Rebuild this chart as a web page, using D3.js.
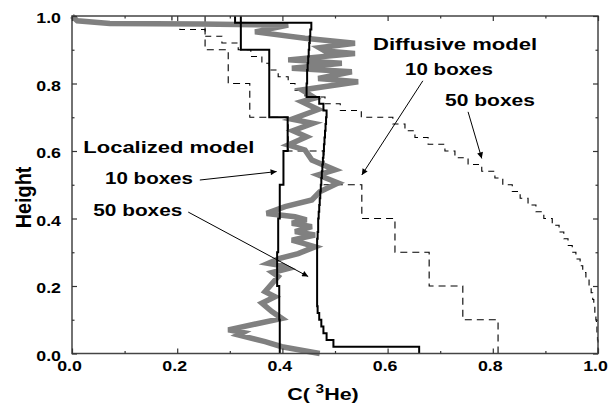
<!DOCTYPE html>
<html><head><meta charset="utf-8">
<script src="https://cdn.jsdelivr.net/npm/d3@7/dist/d3.min.js"></script>
<style>
body{margin:0;background:#fff}
text{font-family:"Liberation Sans",Arial,Helvetica,sans-serif;font-weight:bold;fill:#000}
</style>
</head><body>
<svg id="chart" width="609" height="408"></svg>
<script>
// ---------- data ----------
const xMajorTicks = [0, 0.2, 0.4, 0.6, 0.8, 1.0];
const xTickLabels = ["0.0", "0.2", "0.4", "0.6", "0.8", "1.0"];
const yMajorTicks = [0, 0.2, 0.4, 0.6, 0.8, 1.0];
const yTickLabels = ["0.0", "0.2", "0.4", "0.6", "0.8", "1.0"];
const minorTicks = [0.1, 0.3, 0.5, 0.7, 0.9];

// Localized model, 10 boxes (black step, left) : box edges (top->bottom) and values
const locTenEdges  = [1.0, 0.98, 0.9, 0.8, 0.7, 0.6, 0.5, 0.4, 0.3, 0.2, 0.1, 0.0];
const locTenValues = [0.310, 0.321, 0.375, 0.375, 0.410, 0.402, 0.395, 0.392, 0.390, 0.394, 0.395];

// 50-box black step (right), values bottom->top, each box 0.02 high
const locFiftyValues = [
  0.660, 0.497, 0.484, 0.478, 0.474, 0.470, 0.467, 0.466, 0.466, 0.466,
  0.466, 0.466, 0.466, 0.466, 0.466, 0.466, 0.466, 0.467, 0.468, 0.468,
  0.469, 0.470, 0.471, 0.472, 0.473, 0.474, 0.475, 0.476, 0.477, 0.478,
  0.479, 0.480, 0.481, 0.482, 0.483, 0.484, 0.478, 0.470, 0.446, 0.446,
  0.447, 0.447, 0.448, 0.449, 0.450, 0.451, 0.452, 0.453, 0.455, 0.321];

// Gray wiggly profile (Localized model, 50 boxes)
const grayX = [0.000,0.010,0.072,0.243,0.411,0.348,0.443,0.538,0.470,0.481,0.538,0.411,0.513,0.418,0.532,0.468,0.544,0.437,0.462,0.437,0.468,
  0.418,0.458,0.420,0.446,0.411,0.443,0.456,0.500,0.468,0.506,0.471,0.456,0.405,0.370,0.424,0.446,0.418,0.456,0.424,0.462,
  0.418,0.440,0.462,0.430,0.395,0.373,0.400,0.411,0.381,0.392,0.367,0.386,0.361,0.380,0.399,0.297,0.325,0.316,0.367,0.399,0.471];
const grayH = [1.000,0.986,0.978,0.976,0.973,0.953,0.934,0.919,0.906,0.896,0.889,0.870,0.860,0.845,0.835,0.815,0.805,0.781,0.757,0.746,0.723,
  0.694,0.682,0.660,0.642,0.618,0.603,0.573,0.544,0.529,0.505,0.479,0.455,0.435,0.415,0.405,0.396,0.386,0.376,0.361,0.351,
  0.336,0.326,0.316,0.296,0.282,0.267,0.260,0.252,0.240,0.228,0.183,0.168,0.149,0.124,0.104,0.070,0.062,0.055,0.035,0.020,0.000];

// Diffusive model, 10 boxes (coarse dashed), values bottom->top, each box 0.1 high
const difTenValues = [0.810, 0.743, 0.679, 0.614, 0.551, 0.479, 0.411, 0.338, 0.297, 0.253];

// Diffusive model, 50 boxes (fine dashed), values bottom->top, each box 0.02 high
const difFiftyValues = [
  1.000, 1.000, 0.999, 0.998, 0.997, 0.996, 0.994, 0.992, 0.990, 0.987,
  0.983, 0.977, 0.971, 0.966, 0.958, 0.951, 0.943, 0.935, 0.926, 0.913,
  0.897, 0.882, 0.867, 0.852, 0.837, 0.819, 0.804, 0.779, 0.753, 0.728,
  0.709, 0.677, 0.652, 0.633, 0.610, 0.550, 0.510, 0.481, 0.443, 0.424,
  0.411, 0.392, 0.375, 0.361, 0.340, 0.316, 0.285, 0.253, 0.205, 0.190];

// Annotations: text, arrow start and arrow tip (data units)
const labelTexts = ["Diffusive model", "10 boxes", "50 boxes", "Localized model", "10 boxes", "50 boxes"];
const arrowStarts = [[0.667, 0.808], [0.753, 0.716], [0.243, 0.514], [0.221, 0.419]];
const arrowEnds   = [[0.551, 0.529], [0.779, 0.578], [0.389, 0.539], [0.449, 0.228]];

// ---------- layout ----------
const svg = d3.select("#chart");
const x = d3.scaleLinear().domain([0, 1]).range([72, 598]);
const y = d3.scaleLinear().domain([0, 1]).range([353.5, 16]);

function boxesFromEdges(edges, values) {
  const pts = [];
  values.forEach((v, i) => { pts.push([v, edges[i]]); pts.push([v, edges[i + 1]]); });
  return pts;
}
function boxesUniform(values, n) {
  const pts = [];
  const hgt = 1 / n;
  values.forEach((v, i) => { pts.push([v, i * hgt]); pts.push([v, (i + 1) * hgt]); });
  return pts;
}
const line = d3.line().x(d => x(d[0])).y(d => y(d[1]));

// dashed lines
svg.append("path").attr("d", line(boxesUniform(difTenValues, 10)))
  .attr("fill", "none").attr("stroke", "#000").attr("stroke-width", 1.1).attr("stroke-dasharray", "7,5");
svg.append("path").attr("d", line(boxesUniform(difFiftyValues, 50)))
  .attr("fill", "none").attr("stroke", "#000").attr("stroke-width", 1.1).attr("stroke-dasharray", "6,5");

// gray profile
svg.append("path").attr("d", line(grayX.map((v, i) => [v, grayH[i]])))
  .attr("fill", "none").attr("stroke", "#808080").attr("stroke-width", 5.5).attr("stroke-linejoin", "miter");

// black steps
svg.append("path").attr("d", line(boxesFromEdges(locTenEdges, locTenValues)))
  .attr("fill", "none").attr("stroke", "#000").attr("stroke-width", 2);
svg.append("path").attr("d", line(boxesUniform(locFiftyValues, 50)))
  .attr("fill", "none").attr("stroke", "#000").attr("stroke-width", 2);

// frame
svg.append("rect").attr("x", x(0)).attr("y", y(1)).attr("width", x(1) - x(0)).attr("height", y(0) - y(1))
  .attr("fill", "none").attr("stroke", "#444").attr("stroke-width", 1.5);

// axes
function styleAxis(g) { g.select(".domain").remove(); g.selectAll(".tick line").attr("stroke", "#333").attr("stroke-width", 1.2); }

const bottom = svg.append("g").attr("transform", `translate(0,${y(0)})`)
  .call(d3.axisBottom(x).tickValues(xMajorTicks).tickSize(-5).tickFormat((d, i) => xTickLabels[i]));
styleAxis(bottom);
bottom.selectAll("text").attr("y", 17.4).attr("dy", 0).attr("x", -3)
  .attr("font-size", 14.5).attr("textLength", 24.7).attr("lengthAdjust", "spacingAndGlyphs")
  .style("font-family", "'Liberation Sans',Arial,sans-serif").style("font-weight", "bold").attr("fill", "#000");
svg.append("g").attr("transform", `translate(0,${y(0)})`)
  .call(d3.axisBottom(x).tickValues(minorTicks).tickSize(-2.5).tickFormat("")).call(styleAxis);

const left = svg.append("g").attr("transform", `translate(${x(0)},0)`)
  .call(d3.axisLeft(y).tickValues(yMajorTicks).tickSize(-5).tickPadding(11).tickFormat((d, i) => yTickLabels[i]));
styleAxis(left);
left.selectAll("text").attr("dy", "0.46em")
  .attr("font-size", 14.5).attr("textLength", 24.7).attr("lengthAdjust", "spacingAndGlyphs")
  .style("font-family", "'Liberation Sans',Arial,sans-serif").style("font-weight", "bold").attr("fill", "#000");
svg.append("g").attr("transform", `translate(${x(0)},0)`)
  .call(d3.axisLeft(y).tickValues(minorTicks).tickSize(-2.5).tickFormat("")).call(styleAxis);

svg.append("g").attr("transform", `translate(0,${y(1)})`)
  .call(d3.axisTop(x).tickValues(xMajorTicks).tickSize(-5).tickFormat("")).call(styleAxis);
svg.append("g").attr("transform", `translate(0,${y(1)})`)
  .call(d3.axisTop(x).tickValues(minorTicks).tickSize(-2.5).tickFormat("")).call(styleAxis);
svg.append("g").attr("transform", `translate(${x(1)},0)`)
  .call(d3.axisRight(y).tickValues(yMajorTicks).tickSize(-5).tickFormat("")).call(styleAxis);
svg.append("g").attr("transform", `translate(${x(1)},0)`)
  .call(d3.axisRight(y).tickValues(minorTicks).tickSize(-2.5).tickFormat("")).call(styleAxis);

// axis titles
const xt = svg.append("text").attr("transform", "translate(287.3,400) scale(1.28,1)").attr("font-size", 16.8);
xt.append("tspan").text("C(");
xt.append("tspan").attr("dx", 4.4).attr("dy", -7).attr("font-size", 12).text("3");
xt.append("tspan").attr("dy", 7).text("He)");

svg.append("text").attr("transform", "translate(31,197.5) scale(1.3,1) rotate(-90)")
  .attr("text-anchor", "middle").attr("font-size", 16.8)
  .attr("textLength", 61.7).attr("lengthAdjust", "spacingAndGlyphs").text("Height");

// annotation texts
const labelPos = [[373, 49.5, 164], [405, 75, 88], [445, 106, 90], [83.3, 153, 171], [105, 184, 88], [93.3, 216, 89]];
svg.selectAll("text.lab").data(labelTexts).join("text").attr("class", "lab")
  .attr("x", (d, i) => labelPos[i][0]).attr("y", (d, i) => labelPos[i][1])
  .attr("font-size", 16.8).attr("textLength", (d, i) => labelPos[i][2]).attr("lengthAdjust", "spacingAndGlyphs")
  .text(d => d);

// arrows
svg.append("defs").append("marker").attr("id", "ah").attr("viewBox", "0 0 10 10")
  .attr("refX", 10).attr("refY", 5).attr("markerWidth", 9).attr("markerHeight", 6)
  .attr("markerUnits", "userSpaceOnUse").attr("orient", "auto")
  .append("path").attr("d", "M0,0 L10,5 L0,10 Z").attr("fill", "#000");
svg.selectAll("line.arr").data(arrowStarts).join("line").attr("class", "arr")
  .attr("x1", d => x(d[0])).attr("y1", d => y(d[1]))
  .attr("x2", (d, i) => x(arrowEnds[i][0])).attr("y2", (d, i) => y(arrowEnds[i][1]))
  .attr("stroke", "#000").attr("stroke-width", 1).attr("marker-end", "url(#ah)");
</script>
</body></html>
